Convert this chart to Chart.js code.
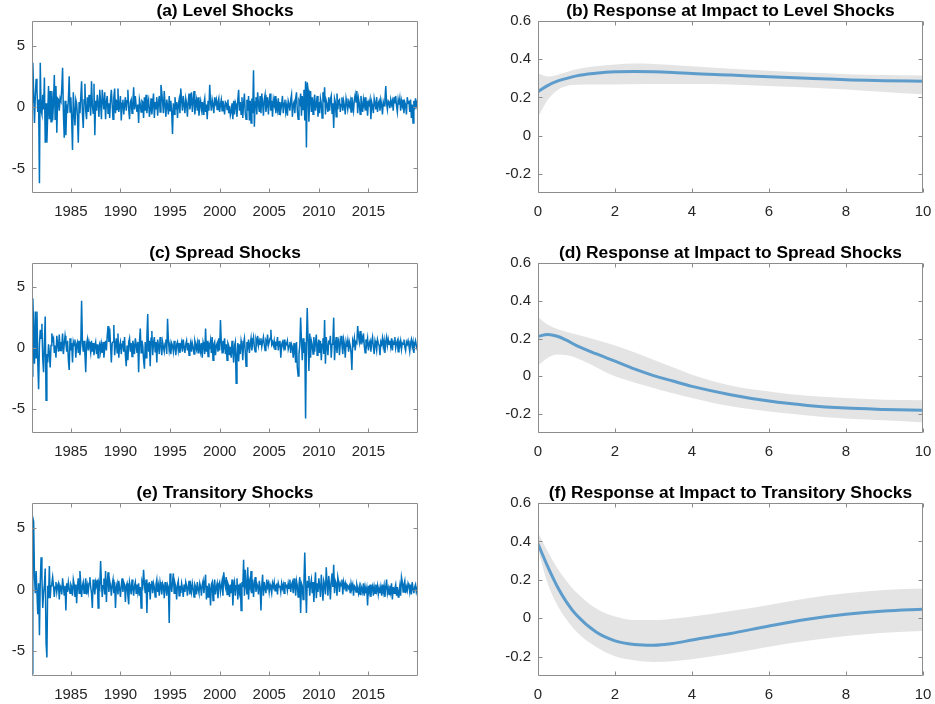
<!DOCTYPE html>
<html>
<head>
<meta charset="utf-8">
<script src="https://cdn.jsdelivr.net/npm/chart.js@4.4.1/dist/chart.umd.min.js"></script>
<style>
  html, body { margin: 0; padding: 0; background: #fff; }
  #fig { position: relative; width: 935px; height: 704px; overflow: hidden; background: #fff; }
  #fig canvas { position: absolute; }
</style>
</head>
<body>
<div id="fig"></div>
<script>
// Monthly shock series, Feb 1981 .. Jan 2020 (one row per year)
const firstYear = 1981;

const levelShocks = [
  0.4, 3.6, 1.1, -1.3, 0.9, 2.3, 1.4, -0.4, 0.6, -6.2, 3.6, -0.3,
  -0.6, 1.0, -0.2, 2.4, -2.9, 0.3, -2.9, -0.6, 1.7, -1.0, 1.3, -1.2,
  1.3, -1.1, 0.4, 2.6, -1.0, 1.7, -2.1, 0.7, 0.6, -0.3, 0.7, 0.5,
  1.5, 3.2, -0.5, -2.5, 0.5, -2.3, 0.2, -0.5, 0.6, 2.5, -0.4, 0.8,
  -1.0, -3.5, 1.2, -0.4, -1.5, 0.6, 0.3, -0.8, -2.9, 0.4, -0.5, 0.8,
  2.1, -0.5, -1.7, 0.6, 1.9, -0.3, -1.0, 0.8, -0.4, 1.0, 0.3, -0.7,
  2.1, 0.2, -0.5, 1.9, -2.3, 0.5, -0.3, 1.0, 0.2, -0.8, 1.4, 0.3,
  -1.0, 1.4, 0.5, -0.2, 1.2, -1.0, 0.4, 0.9, -0.5, 0.3, -0.9, 0.6,
  1.4, 0.2, -1.0, 0.8, 1.5, -0.5, 0.6, -0.2, 1.5, -0.4, 0.1, 0.9,
  -1.1, 0.3, 0.6, -0.6, 0.2, 0.8, -0.3, 0.5, 1.4, -0.2, -1.0, 0.4,
  0.6, -0.5, 0.3, 1.6, -0.2, 0.9, 0.1, -0.4, 0.2, -1.3, 0.6, 0.2,
  -0.4, 0.5, 0.4, -0.9, 0.8, -0.3, 1.0, -0.5, 0.3, 0.6, -0.8, -0.3,
  0.7, -0.6, 0.2, 1.1, -0.9, 0.4, -0.2, 0.8, -0.7, 0.3, 0.9, -0.4,
  1.8, 1.2, 0.4, -0.5, 1.3, 0.2, -0.8, 0.6, 0.1, -0.6, 0.9, -0.3,
  0.5, -0.4, -2.2, 0.3, -0.6, 0.8, -0.2, 0.4, -0.9, 0.2, 0.6, -0.5,
  1.5, 0.6, -0.3, 0.9, 0.2, -0.5, 0.7, 0.3, -0.8, 0.4, 1.1, -0.2,
  0.3, 1.2, -0.4, 0.5, 1.3, -0.6, 0.2, 0.6, -0.3, 0.8, -0.7, 0.1,
  0.5, -0.2, 0.4, -0.6, 0.3, 0.7, -0.4, 0.2, -1.0, 0.5, -0.3, 1.8,
  0.4, -0.3, 0.6, 0.2, -0.5, 0.8, 0.3, 0.6, -0.2, 0.4, 0.7, -0.4,
  0.2, 0.6, -0.3, 0.5, 0.1, -0.6, 0.4, 0.3, -0.2, 0.6, -0.5, 0.1,
  -0.7, -0.4, 0.3, -1.0, 0.5, -0.6, 0.4, 0.2, -0.8, 0.6, 1.4, -0.3,
  0.4, -0.6, 0.8, -0.9, 0.3, 1.1, -0.5, -1.0, 0.6, -0.3, 0.9, -1.1,
  0.5, -1.3, 0.7, -0.5, 3.0, -1.6, 0.4, 0.8, -0.6, 1.2, 0.2, -0.4,
  0.9, -0.5, 1.1, 0.3, -0.7, 0.6, 1.0, -0.4, 0.2, 0.8, -0.6, 0.4,
  1.1, -0.3, 0.5, -0.8, 0.6, 0.2, 0.9, -0.5, 0.3, -0.2, 0.7, -0.6,
  0.4, -0.3, 0.2, 0.9, -0.5, 0.3, 0.6, -0.4, 0.1, -0.7, 0.5, 0.2,
  -0.3, 0.6, 1.0, -0.8, 0.2, 0.4, -0.5, 0.7, 1.2, -0.3, -1.0, 0.5,
  0.3, 1.1, -0.7, 0.9, -0.2, 1.4, -1.1, 2.1, -3.3, 2.0, 1.4, -1.2,
  0.6, 1.3, -0.4, 0.8, -0.6, 0.5, 1.0, -0.3, 0.2, 0.9, -0.8, 0.4,
  -0.5, 0.7, 0.3, -0.9, 1.2, 0.4, 1.6, -0.6, 0.5, 0.2, -0.4, 0.8,
  -0.3, 0.6, 0.9, -0.5, 0.3, -1.7, 0.7, 0.4, -0.8, 1.1, -0.2, 0.5,
  0.6, -0.4, 0.2, 0.8, -0.3, 0.5, 0.1, -0.6, 0.7, 0.3, -0.2, 0.4,
  0.1, 0.5, -0.4, 0.8, 0.2, -0.3, 0.6, 1.0, 0.4, 1.3, -0.5, 0.7,
  0.3, -0.6, 0.9, 0.2, -0.4, 0.6, 0.1, 0.8, -0.3, 0.5, -0.7, 0.4,
  0.2, 0.6, -1.0, 0.4, 0.1, -0.5, 0.7, 0.3, -0.2, 0.8, -0.4, 0.3,
  0.5, -0.3, 0.6, 0.2, -0.6, 0.4, 0.1, 0.6, 1.7, 0.3, -0.2, 0.5,
  0.4, -0.1, 0.6, 0.2, 0.5, -0.3, 0.8, 0.3, 0.9, 0.1, -0.4, 0.6,
  0.2, 0.7, -0.3, 0.5, 0.1, 0.6, -0.5, 0.4, 0.2, -0.6, 0.8, 0.3,
  0.5, -0.4, 0.6, -0.9, 0.2, -1.3, 0.5, -0.2, 0.7, 0.1, 0.4, 0.3
];

const spreadShocks = [
  -2.3, 4.1, 1.5, -1.3, 3.0, -0.8, 3.0, -1.2, -3.4, 0.3, 1.5, 0.8,
  2.0, -0.9, -2.0, 0.5, 2.6, -4.3, -0.5, -1.2, 0.3, -0.4, -1.6, 0.2,
  1.2, 0.6, 0.8, -0.4, 0.2, -0.8, 1.0, 0.3, -0.3, 1.1, -0.2, 0.5,
  0.1, 1.2, -0.5, 0.3, 1.0, 0.4, -0.3, 0.6, -1.0, -1.8, 0.8, -0.2,
  0.4, -1.2, 0.5, 0.2, 0.7, -0.8, 0.3, 0.5, -0.4, 0.6, -0.6, 0.2,
  3.9, 0.5, -0.3, 0.6, -0.5, -2.0, 0.3, 0.7, -0.2, 0.5, 0.1, -0.4,
  0.6, -0.3, 0.4, -0.6, 0.2, 0.5, -0.5, 0.3, -0.8, 0.2, 0.4, -0.3,
  0.3, -0.4, 0.5, -0.8, 0.0, 0.6, -0.2, 1.0, 1.8, 0.5, 1.6, 0.3,
  -1.2, 0.4, 0.5, 1.9, -0.6, 0.3, 0.8, -0.4, 1.2, -0.8, 0.2, 0.5,
  -0.5, 0.3, 0.6, -0.3, 0.9, -0.6, -1.5, 0.2, -1.0, 0.5, 0.8, -0.3,
  0.4, -0.7, 0.6, 0.2, -0.5, 0.8, 0.3, -0.4, 0.5, -2.0, 0.5, 1.6,
  -0.4, 0.6, 0.2, -1.0, -1.7, 0.5, -0.8, 0.9, 2.8, -0.3, 0.6, -1.5,
  0.8, 1.4, -0.6, 0.4, 0.9, -0.3, 0.5, -1.2, 0.7, 0.2, -0.5, 0.9,
  0.3, -0.6, 0.5, 0.1, -0.3, 0.4, 0.7, -0.5, 2.4, 0.6, -0.2, 0.3,
  -0.5, 0.4, 0.2, -0.3, 0.6, 0.0, -0.6, 0.3, 0.5, -0.2, 0.4, -0.4,
  0.2, 0.5, -0.3, 0.7, 0.1, -0.4, 0.3, 0.6, -0.2, 0.4, -0.6, 0.2,
  0.5, -0.3, 0.4, 0.1, -0.5, 0.6, 0.3, -0.1, 0.4, -0.4, 0.7, 0.2,
  -0.3, 0.4, -0.8, 0.5, 0.2, -0.5, 1.6, -0.3, 0.6, -0.7, 0.3, 0.1,
  0.6, -0.4, 0.9, -1.0, 0.3, 0.5, -0.6, 0.2, 0.4, -0.3, 0.8, -0.2,
  2.3, 0.5, -0.4, 0.6, 0.1, 0.8, -0.5, 0.3, -1.0, 0.4, 0.2, -0.6,
  0.1, -0.8, 0.6, -0.3, -1.2, 0.2, 0.5, -2.9, -0.6, 0.4, -1.1, 0.3,
  -0.5, 0.6, 0.2, -1.0, 0.4, 0.8, -0.3, -1.5, 0.5, 0.1, 0.7, -0.4,
  0.3, 0.8, -0.2, 0.5, 0.9, 0.1, -0.3, 0.7, 0.4, 1.0, 0.2, 0.6,
  0.3, 0.8, 0.1, 0.5, 0.9, 0.3, -0.2, 0.6, 0.4, 1.1, 0.2, 0.5,
  0.8, 1.5, 0.3, 0.5, 0.2, 0.6, -0.1, 0.4, 0.3, 0.9, -0.2, 0.5,
  0.6, -0.8, 0.3, 0.5, 0.1, 0.7, -0.2, 0.4, 0.3, 0.6, -0.1, 0.2,
  0.5, -0.4, 0.3, 0.1, -0.8, 0.4, -0.3, -1.2, 0.5, -1.6, -2.3, -0.5,
  0.2, 2.5, 0.6, -1.0, 0.8, -0.4, 0.5, -5.8, 0.4, 3.3, 0.6, -1.9,
  1.2, -0.8, 0.6, 0.3, -0.5, 0.9, -0.3, 0.5, 1.1, -0.6, 0.2, 0.7,
  -0.4, 0.6, -1.0, 0.3, 0.8, -0.5, 2.3, -1.3, 0.9, 0.2, -0.6, 0.5,
  0.4, 1.0, -0.8, 0.3, 0.6, 2.5, -1.0, 0.2, 0.9, -0.4, 0.5, 0.7,
  -0.6, 0.4, 1.0, 0.2, -0.5, 0.7, 0.3, -0.8, 0.5, 0.1, 0.6, -0.3,
  0.5, 0.2, -0.4, -1.8, 0.6, 0.3, 0.8, -0.2, 0.5, 0.4, 1.8, 1.0,
  0.5, 1.4, 0.3, 0.9, 0.6, 1.2, 0.2, -0.4, 0.7, 0.3, 0.8, -0.2,
  0.4, 0.6, -0.3, 0.5, 0.9, 0.1, -0.5, 0.6, 0.3, -0.2, 0.7, 0.4,
  0.2, -0.6, 0.5, 0.3, 0.8, 0.1, 0.6, -0.4, 0.5, 0.9, 0.2, 0.7,
  0.3, 0.6, 0.1, 0.8, -0.2, 0.5, 0.3, 0.9, 0.0, 0.4, 0.6, -0.3,
  0.5, 0.2, 0.6, -0.1, 0.4, 0.3, 0.7, 0.1, -0.2, 0.5, 0.3, 0.6,
  0.2, -0.3, 0.4, 0.7, 0.1, 0.5, -0.4, 0.3, 0.6, 0.2, -0.1, -0.3
];

const transitoryShocks = [
  -6.8, 5.8, 5.5, 1.0, -0.3, 1.5, 1.5, -2.0, 0.5, -3.7, 0.6, 2.6,
  1.0, -1.5, -0.3, 0.4, 1.7, -4.3, -5.5, 0.3, -0.7, 1.9, -0.7, 0.3,
  0.5, 1.0, 0.3, -0.6, 0.2, 0.6, -0.2, 0.3, 0.5, -0.8, 0.3, 0.1,
  -0.4, 0.9, 0.2, -0.5, 0.3, -1.7, 0.5, -0.2, 0.6, 0.1, -0.3, 0.4,
  0.2, -0.5, 0.8, 0.4, -0.6, 0.4, -1.1, 0.3, 0.9, -0.3, 1.5, 0.5,
  -0.6, 0.3, 0.6, -0.3, 0.2, 0.9, -0.4, 0.3, -0.2, 0.5, 1.0, 0.2,
  -0.3, -1.5, 0.8, 0.2, -0.4, 0.6, 0.3, 0.8, -1.5, 0.5, 0.2, 2.3,
  0.5, -0.6, 0.3, 0.9, -0.4, 1.5, -1.0, 0.6, 1.4, -0.2, 0.7, 0.3,
  -0.5, 0.4, 0.8, -0.3, 0.6, -1.5, 0.2, 0.5, -0.4, 0.7, 0.1, -0.6,
  0.3, 0.9, -0.2, 0.6, 0.4, -1.0, 0.3, 0.5, -0.5, -1.2, 0.6, 0.2,
  -0.4, 0.8, 0.1, -0.5, 0.3, 0.6, -0.3, 0.4, -0.2, 0.5, -0.5, 0.2,
  -1.5, 0.6, 0.3, 1.6, 0.4, -0.3, 0.8, -1.9, 0.5, -0.2, 0.6, -0.8,
  0.4, 0.7, -0.3, 0.5, 0.2, -0.6, 0.4, 0.8, -0.2, 0.3, -0.5, 0.6,
  0.2, -0.4, 0.5, 0.3, -0.7, 0.6, 0.1, -0.5, 0.4, 0.2, -2.7, 1.3,
  0.4, -0.2, 0.6, 1.3, -0.3, 0.5, 0.2, -0.8, 0.4, 0.7, -0.5, 0.3,
  -0.3, 0.5, 0.1, -0.6, 0.4, -0.2, 0.6, 0.3, -0.5, 0.2, 0.7, -0.4,
  0.3, -0.2, 0.5, 0.1, -0.6, 0.4, 0.2, -0.4, 0.6, 0.0, -0.3, 0.5,
  0.2, -0.5, 0.4, 0.7, -0.3, 0.5, 1.2, -0.8, 0.3, -0.6, 0.5, 0.1,
  -1.3, 0.4, 0.6, -0.9, 0.3, 0.8, -0.4, 0.2, 0.5, -0.7, 0.4, 0.6,
  -0.2, 0.3, 0.7, -0.5, 1.4, 0.6, 0.2, 1.0, -0.4, 0.5, 0.3, -0.6,
  0.4, -0.3, 0.8, -1.3, 0.2, 0.6, -0.5, 0.3, 0.9, -0.8, 0.4, -0.2,
  0.5, -1.7, 0.6, 0.2, 2.4, -0.5, 1.6, 0.3, -0.4, 1.8, -0.8, 0.6,
  0.2, 1.5, -0.3, 0.8, -0.6, 0.4, 1.0, -0.2, 0.5, 0.3, -0.4, 0.7,
  0.2, -1.7, 0.3, 1.2, -0.5, 0.6, 0.1, -0.3, 0.8, 0.2, 0.5, -0.2,
  0.4, 0.1, -0.3, 0.5, 0.2, 0.6, -0.1, 0.3, 0.4, -0.4, 0.5, 0.2,
  0.3, -0.2, 0.5, 0.1, 0.4, -0.3, 0.6, 0.2, 0.3, -0.1, 0.5, 0.1,
  0.8, -0.2, 0.4, 0.6, -0.3, 0.9, 0.2, -0.5, 0.7, 0.3, -0.6, 0.4,
  1.0, -1.9, 0.5, 0.3, -0.8, 0.6, 3.0, 0.4, -1.9, 0.7, 0.2, 1.1,
  -0.5, 0.4, 0.8, -0.3, 0.6, -1.0, 0.3, 1.4, -0.7, 0.5, -0.2, 0.9,
  0.3, -0.6, 1.2, 0.2, -0.9, 0.7, 0.4, -0.4, 1.8, 0.5, -0.5, 1.1,
  0.4, -0.8, 0.6, 1.3, 0.2, 2.0, -0.3, 0.7, 0.5, -0.5, 1.0, 0.6,
  -0.2, 0.5, 0.3, 0.8, -0.4, 0.6, 0.2, 0.5, -0.1, 0.4, 0.3, 0.1,
  0.3, -0.3, 0.5, 0.1, 0.4, -0.5, 0.3, 0.2, -0.2, 0.4, 0.1, -0.3,
  0.2, -0.4, 0.3, 0.1, -0.2, 0.5, -0.5, 0.2, -0.3, 0.1, -1.3, 0.3,
  -0.2, 0.4, -0.6, 0.1, 0.3, -0.5, 0.2, -0.3, 0.4, -0.1, 0.3, -0.4,
  0.1, -0.3, 0.2, -0.5, 0.4, -0.2, 0.3, -0.6, 0.2, 0.8, -0.3, 0.1,
  -0.4, 0.3, -0.2, 0.5, -0.8, 0.2, -0.3, 0.1, 0.4, -0.5, 0.2, -0.6,
  -0.2, 0.3, -0.5, 1.0, 0.6, -0.2, 0.4, 0.7, -0.3, 0.2, -0.1, 0.5,
  0.3, -0.2, 0.4, -0.4, 0.6, 0.1, -0.3, 0.2, 0.4, -0.2, 0.1, -0.2
];

// Impulse responses at impact: horizon, median and credible band
const horizons = [0, 0.25, 0.5, 0.75, 1, 1.5, 2, 2.5, 3, 3.5, 4, 5, 6, 7, 8, 9, 10];

const levelResp  = [0.230, 0.262, 0.285, 0.300, 0.313, 0.326, 0.334, 0.336, 0.335, 0.331, 0.325, 0.317, 0.308, 0.300, 0.292, 0.288, 0.285];
const levelUpper = [0.325, 0.310, 0.318, 0.333, 0.348, 0.363, 0.373, 0.377, 0.375, 0.370, 0.363, 0.350, 0.340, 0.330, 0.322, 0.318, 0.315];
const levelLower = [0.096, 0.186, 0.238, 0.260, 0.266, 0.268, 0.268, 0.269, 0.270, 0.270, 0.270, 0.268, 0.260, 0.252, 0.242, 0.229, 0.217];

const spreadResp  = [0.212, 0.221, 0.212, 0.190, 0.163, 0.120, 0.080, 0.039, 0.004, -0.025, -0.053, -0.097, -0.131, -0.154, -0.168, -0.175, -0.180];
const spreadUpper = [0.314, 0.274, 0.251, 0.235, 0.221, 0.194, 0.163, 0.127, 0.088, 0.048, 0.009, -0.048, -0.080, -0.103, -0.115, -0.124, -0.127];
const spreadLower = [0.057, 0.097, 0.115, 0.111, 0.097, 0.050, 0.000, -0.033, -0.062, -0.090, -0.115, -0.159, -0.186, -0.207, -0.223, -0.233, -0.244];

const transResp  = [0.387, 0.270, 0.166, 0.082, 0.017, -0.070, -0.117, -0.136, -0.140, -0.131, -0.113, -0.079, -0.040, -0.005, 0.021, 0.038, 0.047];
const transUpper = [0.445, 0.349, 0.262, 0.192, 0.134, 0.052, 0.009, -0.009, -0.009, -0.002, 0.009, 0.038, 0.070, 0.105, 0.131, 0.148, 0.155];
const transLower = [0.358, 0.183, 0.070, -0.009, -0.070, -0.148, -0.197, -0.218, -0.227, -0.223, -0.213, -0.183, -0.148, -0.117, -0.092, -0.075, -0.066];

// Axis ticks
const yearTicks = [1985, 1990, 1995, 2000, 2005, 2010, 2015];
const shockTicks = [-5, 0, 5];
const horizonTicks = [0, 2, 4, 6, 8, 10];
const respTicks = [-0.2, 0, 0.2, 0.4, 0.6];

const titles = [
  '(a) Level Shocks', '(b) Response at Impact to Level Shocks',
  '(c) Spread Shocks', '(d) Response at Impact to Spread Shocks',
  '(e) Transitory Shocks', '(f) Response at Impact to Transitory Shocks'
];

const FONT = '"Liberation Sans", Arial, Helvetica, sans-serif';
const LINE_BLUE = '#0072BD';
const RESP_BLUE = 'rgb(94,156,204)';
const BAND_GREY = '#e4e4e4';
const AXIS_GREY = '#8c8c8c';
const TEXT = '#262626';

// Frame + inward tick marks on all four sides, and the bold title
const framePlugin = {
  id: 'frame',
  afterDatasetsDraw(chart) {
    const { ctx, chartArea: a, scales } = chart;
    const L = Math.round(a.left) + 0.5, R = Math.round(a.right) - 0.5;
    const T = Math.round(a.top) + 0.5, B = Math.round(a.bottom) - 0.5;
    const len = 4;
    ctx.save();
    ctx.strokeStyle = AXIS_GREY;
    ctx.lineWidth = 1;
    ctx.beginPath();
    ctx.rect(L, T, R - L, B - T);
    scales.x.ticks.forEach(t => {
      const px = Math.round(scales.x.getPixelForValue(t.value)) + 0.5;
      ctx.moveTo(px, B); ctx.lineTo(px, B - len);
      ctx.moveTo(px, T); ctx.lineTo(px, T + len);
    });
    scales.y.ticks.forEach(t => {
      const py = Math.round(scales.y.getPixelForValue(t.value)) + 0.5;
      ctx.moveTo(L, py); ctx.lineTo(L + len, py);
      ctx.moveTo(R, py); ctx.lineTo(R - len, py);
    });
    ctx.stroke();
    ctx.restore();
  },
  afterDraw(chart, args, opts) {
    const { ctx, chartArea: a } = chart;
    ctx.save();
    ctx.fillStyle = '#000';
    ctx.font = 'bold 17.4px ' + FONT;
    ctx.textAlign = 'center';
    ctx.textBaseline = 'alphabetic';
    ctx.fillText(opts.text, (a.left + a.right) / 2, a.top - 5);
    ctx.restore();
  }
};

function fmt(v) { return String(Math.round(v * 10) / 10); }

function axis(min, max, tickVals, isY, width) {
  return {
    type: 'linear', min, max,
    grid: { display: false, drawTicks: false },
    border: { display: false },
    ticks: {
      color: TEXT, font: { family: FONT, size: 15 },
      padding: isY ? 7 : 10, autoSkip: false, maxRotation: 0,
      callback: v => fmt(v)
    },
    afterBuildTicks: s => { s.ticks = tickVals.map(v => ({ value: v })); },
    afterFit: s => {
      if (isY) { s.width = width; s.paddingTop = 0; s.paddingBottom = 0; }
      else { s.height = 30; s.paddingLeft = 0; s.paddingRight = 0; }
    }
  };
}

function makeCanvas(left, top, w, h) {
  const c = document.createElement('canvas');
  c.width = w; c.height = h;
  c.style.left = left + 'px'; c.style.top = top + 'px';
  c.style.width = w + 'px'; c.style.height = h + 'px';
  document.getElementById('fig').appendChild(c);
  return c;
}

const rows = [
  { top: 21, bottom: 193 },
  { top: 263, bottom: 433 },
  { top: 503, bottom: 676 }
];
const TITLE_SPACE = 24;
const XAXIS_SPACE = 30;

function shockChart(row, series, title) {
  const r = rows[row];
  const h = TITLE_SPACE + (r.bottom - r.top) + XAXIS_SPACE;
  const c = makeCanvas(0, r.top - TITLE_SPACE, 430, h);
  const pts = series.map((v, i) => ({ x: firstYear + (i + 1) / 12, y: v }));
  new Chart(c, {
    type: 'line',
    data: { datasets: [{ data: pts, borderColor: LINE_BLUE, borderWidth: 1.5, pointRadius: 0, tension: 0, fill: false }] },
    options: {
      responsive: false, animation: false, devicePixelRatio: 1,
      layout: { padding: { top: TITLE_SPACE, right: 12, left: 0, bottom: 0 } },
      plugins: { legend: { display: false }, tooltip: { enabled: false }, frame: { text: title } },
      scales: {
        x: axis(firstYear + 1 / 12, 2020, yearTicks, false),
        y: axis(-7, 7, shockTicks, true, 32)
      }
    },
    plugins: [framePlugin]
  });
}

function respChart(row, mid, up, lo, title) {
  const r = rows[row];
  const h = TITLE_SPACE + (r.bottom - r.top) + XAXIS_SPACE;
  const c = makeCanvas(480, r.top - TITLE_SPACE, 455, h);
  const toPts = arr => arr.map((v, i) => ({ x: horizons[i], y: v }));
  const smooth = { pointRadius: 0, cubicInterpolationMode: 'monotone' };
  new Chart(c, {
    type: 'line',
    data: {
      datasets: [
        Object.assign({ data: toPts(up), borderWidth: 0, borderColor: 'rgba(0,0,0,0)', backgroundColor: BAND_GREY, fill: '+1', order: 2 }, smooth),
        Object.assign({ data: toPts(lo), borderWidth: 0, borderColor: 'rgba(0,0,0,0)', fill: false, order: 2 }, smooth),
        Object.assign({ data: toPts(mid), borderWidth: 3, borderColor: RESP_BLUE, fill: false, order: 1 }, smooth)
      ]
    },
    options: {
      responsive: false, animation: false, devicePixelRatio: 1,
      layout: { padding: { top: TITLE_SPACE, right: 12, left: 0, bottom: 0 } },
      plugins: { legend: { display: false }, tooltip: { enabled: false }, filler: { propagate: false }, frame: { text: title } },
      scales: {
        x: axis(0, 10, horizonTicks, false),
        y: axis(-0.3, 0.6, respTicks, true, 58)
      }
    },
    plugins: [framePlugin]
  });
}

shockChart(0, levelShocks, titles[0]);
respChart(0, levelResp, levelUpper, levelLower, titles[1]);
shockChart(1, spreadShocks, titles[2]);
respChart(1, spreadResp, spreadUpper, spreadLower, titles[3]);
shockChart(2, transitoryShocks, titles[4]);
respChart(2, transResp, transUpper, transLower, titles[5]);
</script>
</body>
</html>
